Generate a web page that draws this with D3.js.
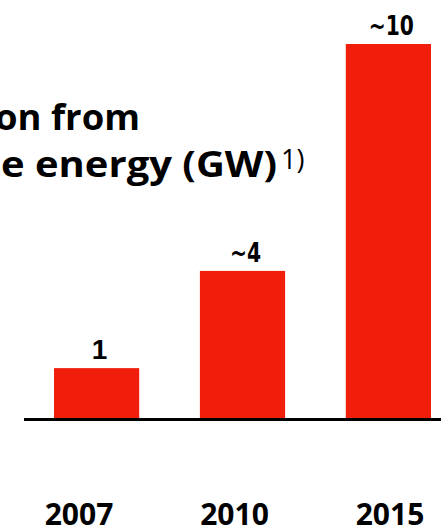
<!DOCTYPE html>
<title>Generation from renewable energy</title>
<body>
<script src="https://cdn.jsdelivr.net/npm/d3@7"></script>
<style>
  html, body {
    width: 100%;
    height: 100%;
    margin: 0;
    overflow: hidden;
    background: #fff;
  }
</style>
<script>
  // values; the printed labels are rounded
  var years = ["2007", "2010", "2015"],
    values = [1, 2.95, 7.5],
    valueLabels = ["1", "~4", "~10"],
    titleLines = ["on from", "e energy (GW)"],
    footnote = "1)";

  var width = 441,
    height = 528,
    base = 418;

  var svg = d3.select("body").append("svg")
    .attr("width", width)
    .attr("height", height);

  var x = d3.scaleBand()
    .domain(years)
    .range([54, 431])
    .paddingInner(0.416)
    .paddingOuter(0);

  var y = d3.scaleLinear()
    .domain([0, d3.max(values)])
    .range([base, 44]);

  // year labels sit a bit off the bar centres
  var xLabel = d3.scalePoint()
    .domain(years)
    .range([79, 390]);

  svg.selectAll("rect.bar")
    .data(values)
    .enter().append("rect")
    .attr("class", "bar")
    .attr("x", function(d, i) { return x(years[i]); })
    .attr("y", function(d) { return y(d); })
    .attr("width", x.bandwidth())
    .attr("height", function(d) { return base - y(d); })
    .attr("fill", "#f11e0c");

  svg.append("line")
    .attr("x1", 24)
    .attr("x2", width)
    .attr("y1", base + 1.5)
    .attr("y2", base + 1.5)
    .attr("stroke", "#000")
    .attr("stroke-width", 3);

  // value labels, the "~" ones are squeezed like a narrow face
  svg.selectAll("text.val")
    .data(values)
    .enter().append("text")
    .attr("class", "val")
    .attr("x", function(d, i) { return x(years[i]) + x.bandwidth() / 2 + 3; })
    .attr("y", function(d) { return y(d) - 9; })
    .attr("text-anchor", "middle")
    .style("font-family", function(d, i) { return i == 0 ? "'Liberation Sans'" : "'DejaVu Sans'"; })
    .style("font-weight", "bold")
    .style("font-size", function(d, i) { return i == 0 ? "28px" : "27px"; })
    .text(function(d, i) { return valueLabels[i]; })
    .each(function(d, i) {
      if (i > 0) {
        var w = this.getComputedTextLength();
        d3.select(this)
          .attr("textLength", w * 0.75)
          .attr("lengthAdjust", "spacingAndGlyphs");
      }
    });

  svg.selectAll("text.year")
    .data(years)
    .enter().append("text")
    .attr("class", "year")
    .attr("x", function(d) { return xLabel(d); })
    .attr("y", 525)
    .attr("text-anchor", "middle")
    .style("font-family", "'Open Sans'")
    .style("font-weight", "bold")
    .style("font-size", "30px")
    .text(function(d) { return d; });

  var title = svg.append("g")
    .style("font-family", "'Open Sans'")
    .style("font-weight", "bold")
    .style("font-size", "35px")
    .attr("fill", "#000");

  title.append("text")
    .attr("x", -5)
    .attr("y", 130)
    .attr("textLength", 145)
    .attr("lengthAdjust", "spacingAndGlyphs")
    .text(titleLines[0]);

  title.append("text")
    .attr("x", 1)
    .attr("y", 177)
    .attr("textLength", 276)
    .attr("lengthAdjust", "spacingAndGlyphs")
    .text(titleLines[1]);

  title.append("text")
    .attr("x", 281)
    .attr("y", 169)
    .style("font-weight", "normal")
    .style("font-size", "27px")
    .text(footnote);
</script>
